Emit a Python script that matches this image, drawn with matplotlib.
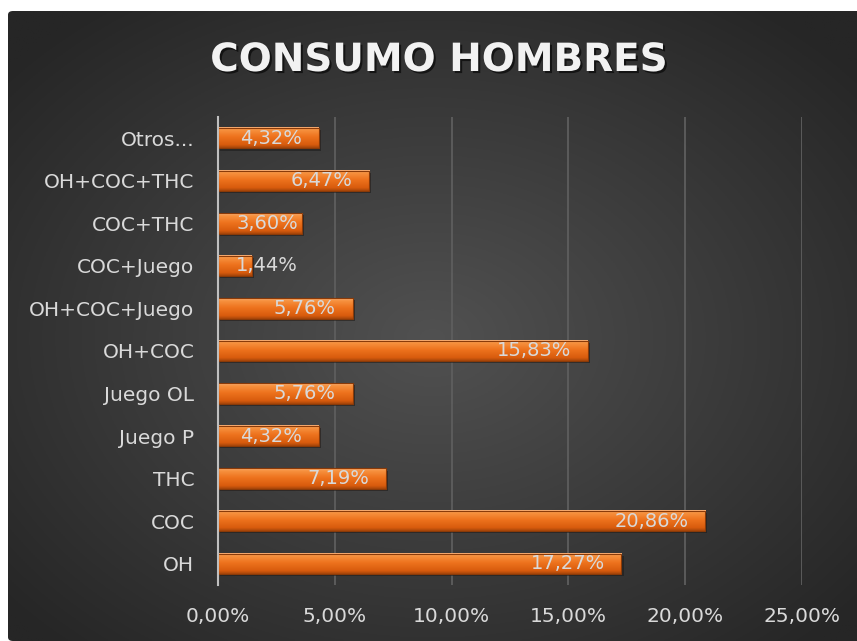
import numpy as np
import matplotlib
matplotlib.use("Agg")
import matplotlib.pyplot as plt
import matplotlib.patheffects as pe
from matplotlib.colors import LinearSegmentedColormap, to_rgb
from matplotlib.patches import FancyBboxPatch
from matplotlib.ticker import FuncFormatter
import matplotlib.transforms as mtransforms

# Data (bottom to top, as shown)
categories = ['OH', 'COC', 'THC', 'Juego P', 'Juego OL', 'OH+COC',
              'OH+COC+Juego', 'COC+Juego', 'COC+THC', 'OH+COC+THC', 'Otros...']
values = [17.27, 20.86, 7.19, 4.32, 5.76, 15.83, 5.76, 1.44, 3.60, 6.47, 4.32]
xticks = [0, 5, 10, 15, 20, 25]
title = 'CONSUMO HOMBRES'

W, H = 857, 641
fig = plt.figure(figsize=(W / 100, H / 100), dpi=100)
fig.patch.set_facecolor('white')

# dark chart area with radial gradient
bg = fig.add_axes([8 / W, 0, 1 - 8 / W, 1 - 11 / H], zorder=0)
bg.set_axis_off()
yy, xx = np.mgrid[0:1:300j, 0:1:400j]
d = np.sqrt(((xx - 0.5) / 0.66) ** 2 + ((yy - 0.52) / 0.66) ** 2)
d = np.clip(d, 0, 1)
c0 = np.array(to_rgb('#515151'))
c1 = np.array(to_rgb('#262626'))
img = c0[None, None, :] * (1 - d[..., None]) + c1[None, None, :] * d[..., None]
im = bg.imshow(img, extent=(0, 1, 0, 1), aspect='auto', origin='upper')
clip = FancyBboxPatch((0, 0), 1.2, 1, boxstyle='round,pad=0,rounding_size=0.006',
                      transform=bg.transAxes, facecolor='none', edgecolor='none')
bg.add_patch(clip)
im.set_clip_path(clip)
bg.set_xlim(0, 1)
bg.set_ylim(0, 1)

# main axes
ax = fig.add_axes([218 / W, 1 - 585 / H, (802 - 218) / W, (585 - 117) / H], zorder=1)
ax.set_facecolor('none')

ypos = np.arange(len(categories))
h = 0.48

# shadow
shadow_tr = mtransforms.offset_copy(ax.transData, fig=fig, x=1.5, y=-1.5, units='points')
ax.barh(ypos, values, height=h, color='#1a1a1a', alpha=0.55, transform=shadow_tr, zorder=2)

# bevelled orange bars
bar_cmap = LinearSegmentedColormap.from_list(
    'bevel', [(0, '#fbb27a'), (0.12, '#f7923f'), (0.45, '#ee731e'),
              (0.85, '#d85b0d'), (1.0, '#a4450a')])
grad = np.linspace(0, 1, 64).reshape(-1, 1)
for y, v in zip(ypos, values):
    ax.imshow(grad, cmap=bar_cmap, extent=(0, v, y - h / 2, y + h / 2),
              aspect='auto', origin='upper', zorder=3, interpolation='bilinear')
ax.barh(ypos, values, height=h, color='none', edgecolor='#8a3a08', linewidth=0.8, zorder=4)

# data labels (inside end; short bars get label pushed right)
for y, v in zip(ypos, values):
    txt = f'{v:.2f}%'.replace('.', ',')
    if v > 4:
        ax.annotate(txt, (v, y), xytext=(-12, 0), textcoords='offset points',
                    ha='right', va='center', color='#d9d9d9', fontsize=14, zorder=5)
    else:
        ax.annotate(txt, (0, y), xytext=(13, 0), textcoords='offset points',
                    ha='left', va='center', color='#d9d9d9', fontsize=14, zorder=5)

ax.set_xlim(0, 25)
ax.set_ylim(-0.5, len(categories) - 0.5)
ax.set_xticks(xticks)
ax.xaxis.set_major_formatter(FuncFormatter(lambda x, p: f'{x:.2f}%'.replace('.', ',')))
ax.set_yticks(ypos)
ax.set_yticklabels(categories)
ax.tick_params(axis='both', length=0, colors='#d9d9d9', labelsize=14.5)
ax.tick_params(axis='y', pad=17)
ax.tick_params(axis='x', pad=16)
ax.grid(axis='x', color='#5e5e5e', linewidth=1.3, zorder=1)
ax.set_axisbelow(True)
for s in ['top', 'right', 'bottom']:
    ax.spines[s].set_visible(False)
ax.spines['left'].set_color('#bfbfbf')
ax.spines['left'].set_linewidth(1.5)
ax.spines['left'].set_zorder(6)

fig.text(439 / W, 1 - 60 / H, title, ha='center', va='center', color='#f2f2f2',
         fontsize=28, fontweight='bold',
         path_effects=[pe.withSimplePatchShadow(offset=(1.5, -1.5), shadow_rgbFace='black', alpha=0.6)])

fig.savefig('out.png', dpi=100)
